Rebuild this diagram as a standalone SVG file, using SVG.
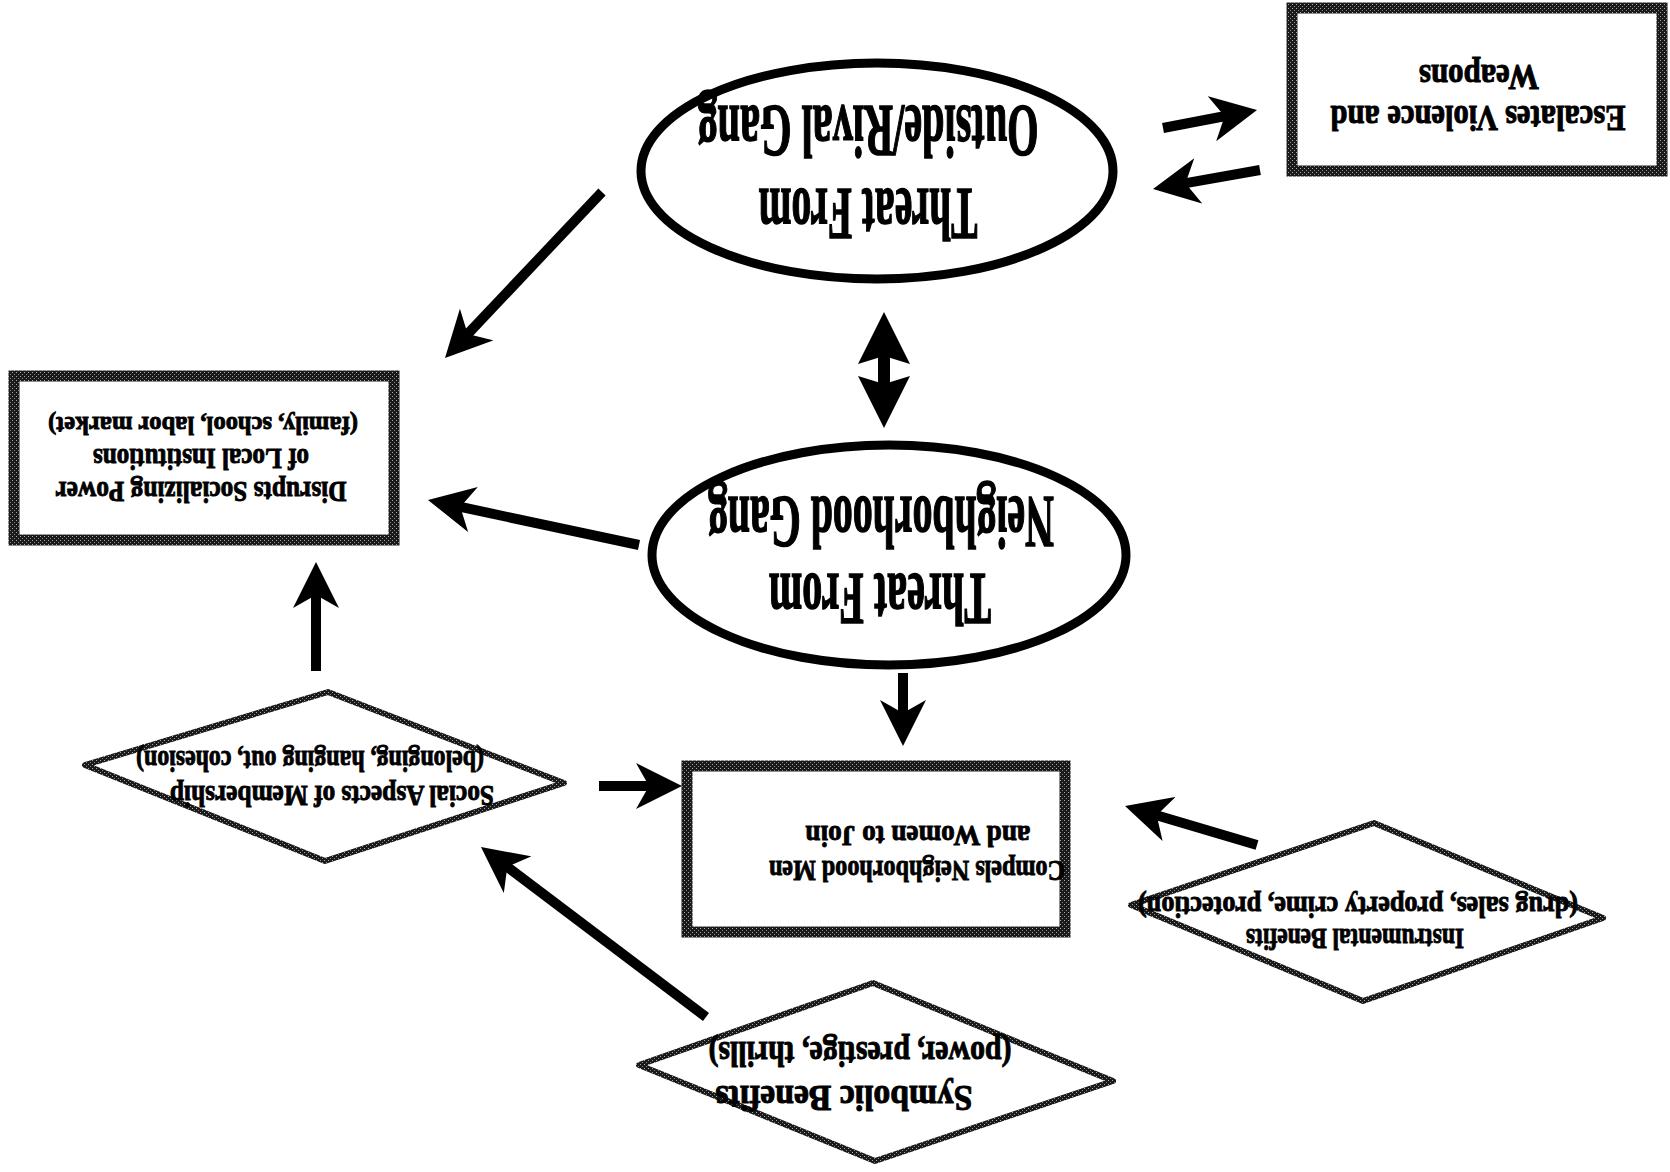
<svg xmlns="http://www.w3.org/2000/svg" width="1670" height="1172" viewBox="0 0 1670 1172">
<style>
.t{font-family:"Liberation Serif","Times New Roman",serif;font-weight:bold;fill:#000;stroke:#000;stroke-width:0.9;text-anchor:middle}
.big{font-size:74px;stroke-width:1.6}
.box{font-size:36px;stroke-width:1}
.sm{font-size:29px}
.ell{fill:#fff;stroke:#000;stroke-width:9}
.rect{fill:#fff;stroke:url(#ht);stroke-width:11}
.dia{fill:#fff;stroke:url(#ht);stroke-width:6;stroke-linejoin:round}
.arr{stroke:#000;stroke-width:10;fill:none;marker-end:url(#head)}
</style>
<defs>
<pattern id="ht" width="4" height="4" patternUnits="userSpaceOnUse">
<rect width="4" height="4" fill="#1a1a1a"/>
<rect x="0" y="0" width="1" height="1" fill="#aaa"/>
<rect x="2" y="2" width="1" height="1" fill="#888"/>
</pattern>
<marker id="head" viewBox="0 0 46 46" refX="14" refY="23" markerWidth="46" markerHeight="46" markerUnits="userSpaceOnUse" orient="auto">
<path d="M0,0 L46,23 L0,46 L13,23 Z" fill="#000"/>
</marker>
<marker id="head2" viewBox="0 0 52 52" refX="10" refY="26" markerWidth="52" markerHeight="52" markerUnits="userSpaceOnUse" orient="auto-start-reverse">
<path d="M0,0 L52,26 L0,52 L8,26 Z" fill="#000"/>
</marker>
</defs>
<rect width="1670" height="1172" fill="#fff"/>

<g id="connectors">
<line class="arr" x1="602" y1="192" x2="467" y2="334.7"/>
<line class="arr" x1="639" y1="545" x2="459.3" y2="506.7"/>
<line class="arr" x1="316" y1="671" x2="316" y2="594"/>
<line x1="884" y1="354" x2="884" y2="386" stroke="#000" stroke-width="12" marker-start="url(#head2)" marker-end="url(#head2)"/>
<line class="arr" x1="1163" y1="128" x2="1225.6" y2="116"/>
<line class="arr" x1="1260" y1="170" x2="1184.5" y2="183.4"/>
<line class="arr" x1="903" y1="673" x2="903" y2="714"/>
<line class="arr" x1="599" y1="786" x2="650" y2="786"/>
<line class="arr" x1="1257" y1="845" x2="1155.7" y2="815"/>
<line class="arr" x1="706" y1="1017" x2="506.5" y2="866.3"/>
</g>

<g id="outside-gang">
<ellipse class="ell" cx="877" cy="171" rx="236" ry="108"/>
<text class="t big" x="868" y="189" textLength="219" lengthAdjust="spacingAndGlyphs" transform="rotate(180 868 189)">Threat From</text>
<text class="t big" x="868" y="106" textLength="341" lengthAdjust="spacingAndGlyphs" transform="rotate(180 868 106)">Outside/Rival Gang</text>
</g>

<g id="neighborhood-gang">
<ellipse class="ell" cx="889" cy="555" rx="237" ry="110"/>
<text class="t big" x="880" y="574" textLength="222" lengthAdjust="spacingAndGlyphs" transform="rotate(180 880 574)">Threat From</text>
<text class="t big" x="881" y="497" textLength="346" lengthAdjust="spacingAndGlyphs" transform="rotate(180 881 497)">Neighborhood Gang</text>
</g>

<g id="escalates">
<rect class="rect" x="1292" y="8" width="370" height="163"/>
<text class="t box" x="1478" y="106" textLength="295" lengthAdjust="spacingAndGlyphs" transform="rotate(180 1478 106)">Escalates Violence and</text>
<text class="t box" x="1479" y="65" textLength="120" lengthAdjust="spacingAndGlyphs" transform="rotate(180 1479 65)">Weapons</text>
</g>

<g id="disrupts">
<rect class="rect" x="14" y="376" width="380" height="164"/>
<text class="t sm" x="201" y="482" textLength="291" lengthAdjust="spacingAndGlyphs" transform="rotate(180 201 482)">Disrupts Socializing Power</text>
<text class="t sm" x="201" y="449" textLength="216" lengthAdjust="spacingAndGlyphs" transform="rotate(180 201 449)">of Local Institutions</text>
<text class="t" style="font-size:26px" x="203" y="417" textLength="310" lengthAdjust="spacingAndGlyphs" transform="rotate(180 203 417)">(family, school, labor market)</text>
</g>

<g id="compels">
<rect class="rect" x="687" y="766" width="378" height="166"/>
<text class="t sm" x="917" y="861" textLength="296" lengthAdjust="spacingAndGlyphs" transform="rotate(180 917 861)">Compels Neighborhood Men</text>
<text class="t sm" x="918" y="826" textLength="225" lengthAdjust="spacingAndGlyphs" transform="rotate(180 918 826)">and Women to Join</text>
</g>

<g id="social-aspects">
<polygon class="dia" points="85,765 328,692 564,783 325,861"/>
<text class="t sm" x="332" y="786" textLength="324" lengthAdjust="spacingAndGlyphs" transform="rotate(180 332 786)">Social Aspects of Membership</text>
<text class="t sm" x="310" y="751" textLength="348" lengthAdjust="spacingAndGlyphs" transform="rotate(180 310 751)">(belonging, hanging out, cohesion)</text>
</g>

<g id="instrumental">
<polygon class="dia" points="1131,905 1374,823 1603,918 1363,1001"/>
<text class="t sm" x="1355" y="929" textLength="218" lengthAdjust="spacingAndGlyphs" transform="rotate(180 1355 929)">Instrumental Benefits</text>
<text class="t sm" x="1358" y="897" textLength="440" lengthAdjust="spacingAndGlyphs" transform="rotate(180 1358 897)">(drug sales, property crime, protection)</text>
</g>

<g id="symbolic">
<polygon class="dia" points="639,1065 873,983 1113,1081 875,1161"/>
<text class="t box" x="844" y="1086" textLength="257" lengthAdjust="spacingAndGlyphs" transform="rotate(180 844 1086)">Symbolic Benefits</text>
<text class="t box" x="860" y="1042" textLength="303" lengthAdjust="spacingAndGlyphs" transform="rotate(180 860 1042)">(power, prestige, thrills)</text>
</g>
</svg>
